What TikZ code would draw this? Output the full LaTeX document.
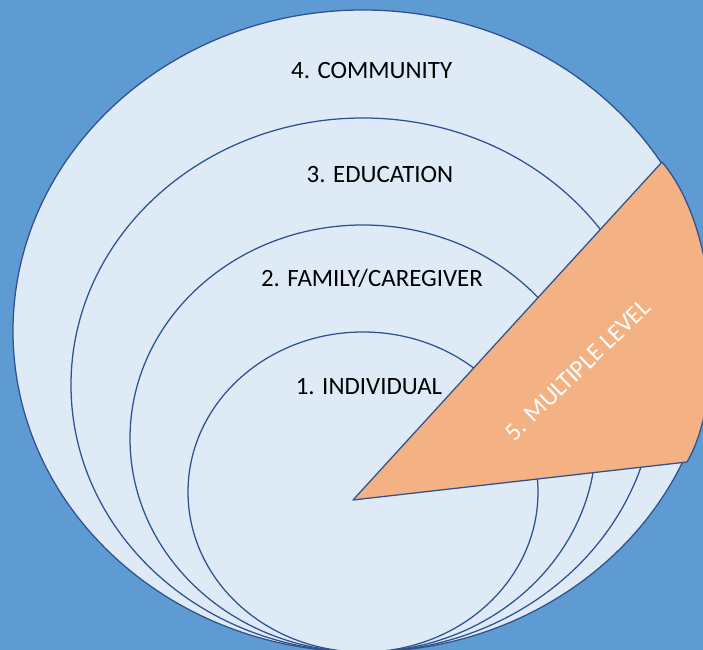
\documentclass[tikz,border=0pt]{standalone}
\usepackage{fontspec}
\setmainfont{Carlito}
\definecolor{bgblue}{HTML}{5E9BD2}
\definecolor{ringfill}{HTML}{DEEBF7}
\definecolor{ringline}{HTML}{2F528F}
\definecolor{slicefill}{HTML}{F4B183}
\begin{document}
\begin{tikzpicture}[x = .025cm, y = .025cm,
	ring/.style = {fill = ringfill, draw = ringline, line width = .9pt},
	slice/.style = {fill = slicefill, draw = ringline, line width = .9pt, line join = round},
	lbl/.style = {anchor = base, inner sep = 0pt, font = \fontsize{17.7}{21}\selectfont}]
		\useasboundingbox (0, 0) rectangle (703, 650);
		\fill[bgblue] (0, 0) rectangle (703, 650);
		\clip (0, 0) rectangle (703, 650);
		\foreach \r/\cy/\rx/\ry in {4/319/350/321, 3/265/292/267, 2/211.5/233/213.5, 1/158/175/160}
		{
			\draw[ring] (363, \cy) ellipse [x radius = \rx, y radius = \ry];
		}
		\coordinate (tip) at (353, 150);
		\coordinate (top) at (662, 488);
		\coordinate (low) at (687, 188);
		\draw[slice] (tip) -- (top) .. controls (724, 415) and (724, 250) .. (low) -- cycle;
		\node[lbl] (l4) at (371.7, 571.7) {4. COMMUNITY};
		\node[lbl] (l3) at (380, 467.7) {3. EDUCATION};
		\node[lbl] (l2) at (372, 363) {2. FAMILY/CAREGIVER};
		\node[lbl] (l1) at (369, 255.7) {1. INDIVIDUAL};
		\node[lbl, white, anchor = center, rotate = 44] (l5) at (578, 280) {5. MULTIPLE LEVEL};
\end{tikzpicture}
\end{document}
